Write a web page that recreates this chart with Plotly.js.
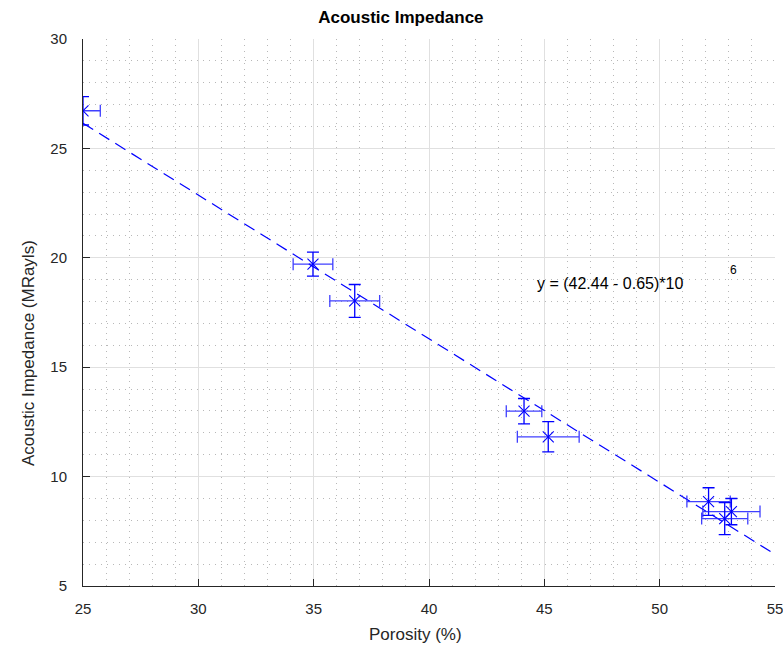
<!DOCTYPE html>
<html>
<head>
<meta charset="utf-8">
<script src="https://cdn.plot.ly/plotly-3.0.1.min.js"></script>
<style>html,body{margin:0;padding:0;background:#fff;}#chart{width:783px;height:648px;}</style>
</head>
<body>
<div id="chart"></div>
<script>
// Data
const porosity = [25.0, 34.97, 36.78, 44.12, 45.17, 52.12, 53.11, 52.82];
const impedance = [26.72, 19.71, 18.03, 12.99, 11.82, 8.86, 8.40, 8.08];
const porosityErr = [0.75, 0.86, 1.08, 0.77, 1.34, 0.94, 1.24, 1.0];
const impedanceErr = [0.65, 0.55, 0.75, 0.58, 0.69, 0.63, 0.60, 0.73];
const fitX = [25, 55];
const fitY = [26.15, 6.45];
const xTicks = [25, 30, 35, 40, 45, 50, 55];
const yTicks = [5, 10, 15, 20, 25, 30];

const blue = '#0000ff';
const FONT = 'Liberation Sans, Arial, sans-serif';
const traces = [
  {
    x: fitX, y: fitY, mode: 'lines', type: 'scatter',
    line: {color: blue, width: 1.2, dash: '12px,7px'},
    hoverinfo: 'skip', showlegend: false
  },
  {
    x: porosity, y: impedance, mode: 'markers', type: 'scatter',
    marker: {symbol: 'x-thin', size: 11, line: {color: blue, width: 1.1}, color: blue},
    error_x: {type: 'data', array: porosityErr, visible: true, color: 'rgba(30,30,255,0.85)', thickness: 1.3, width: 6},
    error_y: {type: 'data', array: impedanceErr, visible: true, color: blue, thickness: 1.3, width: 6},
    showlegend: false
  }
];

const L = 83, R = 8, T = 39, B = 62;
const PW = 783 - L - R, PH = 648 - T - B;

const tickFont = {family: FONT, size: 15, color: '#262626'};
const axisCommon = {
  ticks: 'inside', ticklen: 7, tickcolor: '#262626', tickwidth: 1,
  showline: true, linecolor: '#262626', linewidth: 1, mirror: false,
  showgrid: true, gridcolor: '#e0e0e0', gridwidth: 1, zeroline: false,
  minor: {dtick: 1, showgrid: true, gridcolor: '#b8b8b8', griddash: '1px,5px', gridwidth: 1, ticks: ''},
  tickfont: tickFont, ticklabeloverflow: 'allow'
};
const layout = {
  width: 783, height: 648,
  margin: {l: L, r: R, t: T, b: B},
  paper_bgcolor: '#ffffff', plot_bgcolor: '#ffffff',
  title: {text: '<b>Acoustic Impedance</b>', x: 0.512, xanchor: 'center', y: 0.974, yanchor: 'middle',
          font: {family: FONT, size: 17, color: '#000'}},
  xaxis: Object.assign({}, axisCommon, {
    range: [25, 55], tickvals: xTicks, ticktext: xTicks.map(String), ticklabelstandoff: 9
  }),
  yaxis: Object.assign({}, axisCommon, {
    range: [5, 30], tickvals: yTicks, ticktext: yTicks.map(String), ticklabelstandoff: 12
  }),
  annotations: [
    {x: (415 - L) / PW, y: -(634 - (T + PH)) / PH, xref: 'paper', yref: 'paper', text: 'Porosity (%)', showarrow: false,
     xanchor: 'center', yanchor: 'middle', font: {family: FONT, size: 17, color: '#262626'}},
    {x: (28 - L) / PW, y: 1 - (353 - T) / PH, xref: 'paper', yref: 'paper', text: 'Acoustic Impedance (MRayls)', showarrow: false,
     textangle: -90, xanchor: 'center', yanchor: 'middle', font: {family: FONT, size: 17, color: '#262626'}},
    {x: 44.6, y: 18.84, xref: 'x', yref: 'y', text: 'y = (42.44 - 0.65)*10', showarrow: false,
     xanchor: 'left', yanchor: 'middle', font: {family: FONT, size: 16, color: '#000'}},
    {x: 53.2, y: 19.44, xref: 'x', yref: 'y', text: '6', showarrow: false,
     xanchor: 'center', yanchor: 'middle', font: {family: FONT, size: 12, color: '#000'}}
  ]
};

Plotly.newPlot('chart', traces, layout, {displayModeBar: false, staticPlot: true});
</script>
</body>
</html>
